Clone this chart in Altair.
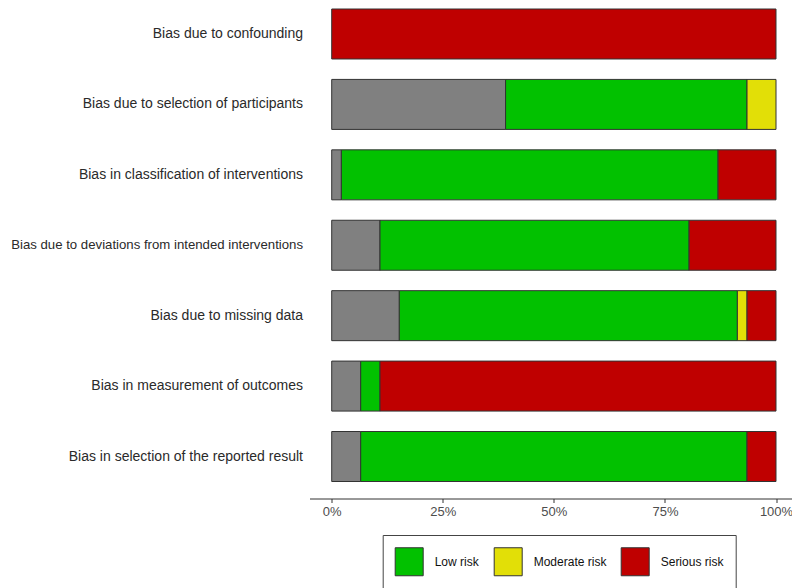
import altair as alt
import pandas as pd

domains = [
    "Bias due to confounding",
    "Bias due to selection of participants",
    "Bias in classification of interventions",
    "Bias due to deviations from intended interventions",
    "Bias due to missing data",
    "Bias in measurement of outcomes",
    "Bias in selection of the reported result",
]
no_info = [0, 18, 1, 5, 7, 3, 3]
low = [0, 25, 39, 32, 35, 2, 40]
moderate = [0, 3, 0, 0, 1, 0, 0]
serious = [46, 0, 6, 9, 3, 41, 3]

judgements = ["No information", "Low risk", "Moderate risk", "Serious risk"]
colors = ["#808080", "#02C100", "#E2DF07", "#BF0000"]
tick_values = [0, 0.25, 0.5, 0.75, 1]

rows = []
for i, d in enumerate(domains):
    for rank, (j, series) in enumerate(zip(judgements, [no_info, low, moderate, serious])):
        if series[i] > 0:
            rows.append({"domain": d, "judgement": j, "count": series[i], "rank": rank})
df = pd.DataFrame(rows)

long_label = domains[3]

chart = alt.Chart(df).mark_bar(stroke="#333333", strokeWidth=1).encode(
    y=alt.Y(
        "domain:N",
        sort=domains,
        title=None,
        scale=alt.Scale(paddingInner=0.29, paddingOuter=0),
        axis=alt.Axis(
            domain=False, ticks=False, labelPadding=7,
            labelFontSize={"condition": {"test": f"datum.value == '{long_label}'", "value": 13.2},
                           "value": 14},
            labelColor="#2a2a2a", labelLimit=500,
        ),
    ),
    x=alt.X(
        "count:Q",
        stack="normalize",
        title=None,
        scale=alt.Scale(domain=[-0.05, 1.036], nice=False, zero=False),
        axis=alt.Axis(values=tick_values, format=".0%", offset=17, grid=False,
                      domainColor="#333333", tickColor="#333333", tickSize=4,
                      labelPadding=3, labelFontSize=13, labelColor="#4d4d4d"),
    ),
    color=alt.Color(
        "judgement:N",
        scale=alt.Scale(domain=judgements, range=colors),
        legend=alt.Legend(
            values=judgements[1:], title=None, orient="none", legendX=73.2, legendY=526,
            direction="horizontal", symbolType="square", symbolSize=784,
            symbolStrokeColor="#333333", symbolStrokeWidth=1, symbolOpacity=1,
            strokeColor="#444444", padding=12, columnPadding=12, labelOffset=11,
            labelFontSize=12, labelColor="#111111",
        ),
    ),
    order=alt.Order("rank:Q"),
).properties(
    width=482.5,
    height=472.5,
    autosize=alt.AutoSizeParams(type="none"),
    padding={"left": 301.5, "top": 1, "right": 0, "bottom": 106.5},
).configure(font="Liberation Sans").configure_view(stroke=None)

chart.save("out.html", embed_options={"renderer": "svg", "actions": False})
